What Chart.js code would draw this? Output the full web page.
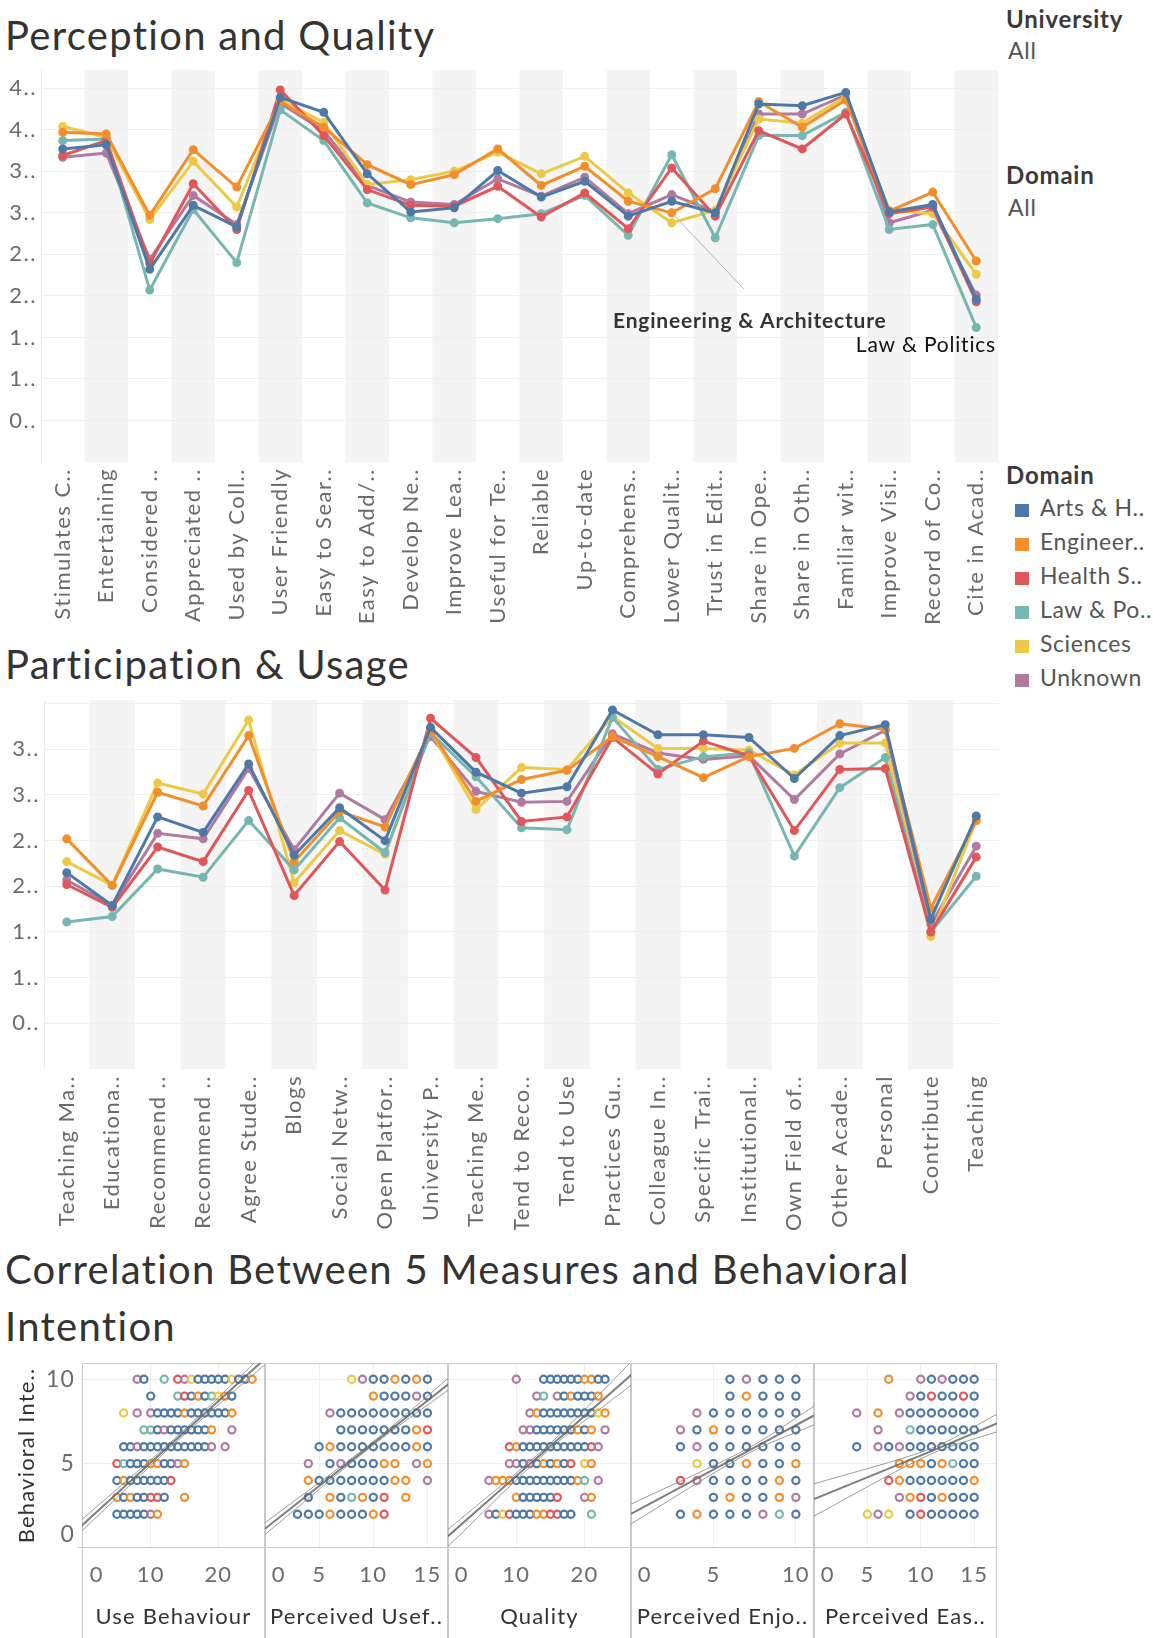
<!DOCTYPE html>
<html>
<head>
<meta charset="utf-8">
<script src="https://cdn.jsdelivr.net/npm/chart.js@4.4.1/dist/chart.umd.min.js"></script>
<style>
  body { margin: 0; background: #fff; width: 1153px; height: 1638px; position: relative; overflow: hidden; font-family: Lato, sans-serif; }
  canvas { position: absolute; }
  .title { position: absolute; left: 5px; font-size: 40px; line-height: 40px; color: #333; white-space: nowrap; letter-spacing: 1.3px; }
  .side { position: absolute; left: 1006px; white-space: nowrap; letter-spacing: 0.8px; }
  .side.head { font-size: 24px; font-weight: 700; color: #3a3a3a; line-height: 26px; }
  .side.val { font-size: 23px; color: #555; line-height: 26px; left: 1008px; }
  .item { position: absolute; left: 1015px; font-size: 23px; color: #555; line-height: 26px; white-space: nowrap; letter-spacing: 0.6px; }
  .item i { display: inline-block; width: 14px; height: 13px; margin-right: 11px; vertical-align: -1px; }
</style>
</head>
<body>
<div class="title" style="top:15px">Perception and Quality</div>
<div class="title" style="top:644px">Participation &amp; Usage</div>
<div class="title" style="top:1249px">Correlation Between 5 Measures and Behavioral</div>
<div class="title" style="top:1306px">Intention</div>

<div class="side head" style="top:6px">University</div>
<div class="side val" style="top:37px">All</div>
<div class="side head" style="top:162px">Domain</div>
<div class="side val" style="top:194px">All</div>
<div class="side head" style="top:462px">Domain</div>
<div id="legend"></div>

<canvas id="perception" width="1020" height="590" style="left:0;top:40px"></canvas>
<canvas id="usage" width="1021" height="560" style="left:0;top:670px"></canvas>
<canvas id="p1" width="285" height="305" style="left:0;top:1333px"></canvas>
<canvas id="p2" width="243" height="305" style="left:225px;top:1333px"></canvas>
<canvas id="p3" width="243" height="305" style="left:408px;top:1333px"></canvas>
<canvas id="p4" width="243" height="305" style="left:591px;top:1333px"></canvas>
<canvas id="p5" width="243" height="305" style="left:774px;top:1333px"></canvas>

<script>
const domains = ['Arts & H..', 'Engineer..', 'Health S..', 'Law & Po..', 'Sciences', 'Unknown'];
const domainColors = ['#4e79a7', '#f28e2b', '#e15759', '#76b7b2', '#edc948', '#b07aa1'];

// Perception and Quality
const perceptionLabels = ['Stimulates C..', 'Entertaining', 'Considered ..', 'Appreciated ..', 'Used by Coll..',
  'User Friendly', 'Easy to Sear..', 'Easy to Add/..', 'Develop Ne..', 'Improve Lea..', 'Useful for Te..',
  'Reliable', 'Up-to-date', 'Comprehens..', 'Lower Qualit..', 'Trust in Edit..', 'Share in Ope..',
  'Share in Oth..', 'Familiar wit..', 'Improve Visi..', 'Record of Co..', 'Cite in Acad..'];
const perceptionArts = [3.77, 3.82, 2.32, 3.09, 2.83, 4.39, 4.21, 3.47, 3.01, 3.06, 3.51, 3.19, 3.38, 2.96, 3.14, 3.00, 4.31, 4.29, 4.45, 3.01, 3.10, 1.96];
const perceptionEng = [3.97, 3.95, 2.97, 3.76, 3.31, 4.34, 4.03, 3.58, 3.34, 3.46, 3.77, 3.33, 3.56, 3.14, 3.00, 3.29, 4.34, 4.03, 4.36, 3.02, 3.25, 2.42];
const perceptionHealth = [3.69, 3.87, 2.39, 3.35, 2.80, 4.48, 3.93, 3.28, 3.09, 3.08, 3.32, 2.95, 3.24, 2.81, 3.54, 2.96, 3.99, 3.77, 4.19, 2.99, 3.07, 1.93];
const perceptionLaw = [3.87, 3.89, 2.07, 3.04, 2.40, 4.24, 3.87, 3.12, 2.94, 2.88, 2.93, 2.99, 3.21, 2.73, 3.70, 2.70, 3.93, 3.93, 4.21, 2.80, 2.86, 1.62];
const perceptionSci = [4.04, 3.91, 2.92, 3.62, 3.07, 4.36, 4.09, 3.34, 3.40, 3.50, 3.73, 3.47, 3.68, 3.24, 2.88, 3.03, 4.13, 4.08, 4.40, 3.03, 2.99, 2.26];
const perceptionUnk = [3.67, 3.72, 2.44, 3.21, 2.86, 4.32, 3.99, 3.33, 3.13, 3.10, 3.41, 3.20, 3.43, 2.99, 3.22, 3.01, 4.19, 4.19, 4.42, 2.88, 3.03, 2.01];

// Participation & Usage
const usageLabels = ['Teaching Ma..', 'Educationa..', 'Recommend ..', 'Recommend ..', 'Agree Stude..', 'Blogs',
  'Social Netw..', 'Open Platfor..', 'University P..', 'Teaching Me..', 'Tend to Reco..', 'Tend to Use',
  'Practices Gu..', 'Colleague In..', 'Specific Trai..', 'Institutional..', 'Own Field of..', 'Other Acade..',
  'Personal', 'Contribute', 'Teaching'];
const usageArts = [2.15, 1.79, 2.76, 2.59, 3.34, 2.34, 2.86, 2.50, 3.74, 3.25, 3.02, 3.09, 3.93, 3.66, 3.66, 3.63, 3.18, 3.65, 3.77, 1.64, 2.77];
const usageEng = [2.52, 2.01, 3.03, 2.88, 3.65, 2.27, 2.82, 2.65, 3.71, 2.93, 3.17, 3.27, 3.64, 3.42, 3.19, 3.42, 3.51, 3.78, 3.72, 1.76, 2.72];
const usageHealth = [2.02, 1.77, 2.43, 2.27, 3.05, 1.90, 2.49, 1.96, 3.84, 3.41, 2.71, 2.76, 3.63, 3.23, 3.59, 3.43, 2.61, 3.28, 3.29, 1.50, 2.32];
const usageLaw = [1.61, 1.67, 2.19, 2.10, 2.72, 2.18, 2.75, 2.37, 3.68, 3.20, 2.64, 2.62, 3.85, 3.28, 3.42, 3.46, 2.33, 3.08, 3.41, 1.50, 2.11];
const usageSci = [2.27, 2.01, 3.13, 3.01, 3.82, 2.04, 2.61, 2.35, 3.70, 2.84, 3.30, 3.28, 3.86, 3.51, 3.51, 3.49, 3.22, 3.57, 3.57, 1.45, 2.73];
const usageUnk = [2.07, 1.79, 2.58, 2.52, 3.29, 2.40, 3.02, 2.73, 3.64, 3.04, 2.92, 2.93, 3.67, 3.46, 3.39, 3.43, 2.95, 3.45, 3.71, 1.58, 2.44];

// Correlation panels: [measure, behavioral intention, domain index]
const useBehaviourPts = [
  [8,10,5],[9,10,0],[12,10,3],[14,10,2],[15,10,5],[16,10,4],[17,10,0],[18,10,0],[19,10,0],[20,10,0],[21,10,0],[22,10,4],[23,10,0],[24,10,0],[25,10,1],
  [10,9,0],[14,9,3],[15,9,2],[16,9,0],[17,9,1],[18,9,0],[19,9,3],[20,9,4],[21,9,1],[22,9,0],
  [6,8,4],[8,8,5],[10,8,5],[11,8,0],[12,8,0],[13,8,0],[14,8,0],[15,8,1],[16,8,0],[17,8,0],[18,8,0],[19,8,0],[20,8,0],[21,8,0],[22,8,1],
  [9,7,3],[10,7,3],[11,7,0],[12,7,5],[13,7,0],[14,7,0],[15,7,0],[16,7,0],[17,7,0],[18,7,0],[19,7,1],[22,7,5],
  [6,6,0],[7,6,0],[8,6,5],[9,6,0],[10,6,0],[11,6,0],[12,6,0],[13,6,0],[14,6,0],[15,6,0],[16,6,0],[17,6,0],[18,6,0],[19,6,5],[21,6,5],
  [5,5,2],[6,5,3],[7,5,0],[8,5,0],[9,5,0],[10,5,1],[11,5,1],[12,5,0],[13,5,0],[14,5,5],[15,5,1],
  [5,4,0],[6,4,1],[7,4,0],[8,4,0],[9,4,0],[10,4,0],[11,4,0],[12,4,0],[13,4,2],
  [5,3,1],[6,3,0],[7,3,1],[8,3,0],[9,3,0],[10,3,2],[11,3,2],[12,3,0],[15,3,1],
  [5,2,0],[6,2,0],[7,2,0],[8,2,0],[9,2,0],[10,2,5],[11,2,1]
];
const usefulnessPts = [
  [8,10,4],[9,10,5],[10,10,0],[11,10,0],[12,10,1],[13,10,0],[14,10,1],[15,10,0],
  [10,9,1],[11,9,0],[12,9,0],[13,9,0],[14,9,5],[15,9,0],
  [6,8,5],[7,8,0],[8,8,0],[9,8,0],[10,8,0],[11,8,0],[12,8,0],[13,8,0],[14,8,0],[15,8,0],
  [7,7,0],[8,7,0],[9,7,0],[10,7,0],[11,7,0],[12,7,0],[13,7,0],[14,7,1],[15,7,2],
  [5,6,0],[6,6,1],[7,6,0],[8,6,0],[9,6,0],[10,6,0],[11,6,0],[12,6,0],[13,6,0],[14,6,1],[15,6,0],
  [4,5,5],[6,5,0],[7,5,5],[8,5,0],[9,5,0],[10,5,0],[11,5,1],[12,5,1],[14,5,5],[15,5,1],
  [4,4,1],[5,4,0],[6,4,0],[7,4,0],[8,4,0],[9,4,0],[10,4,0],[11,4,0],[12,4,1],[13,4,1],[15,4,5],
  [4,3,0],[6,3,1],[7,3,0],[8,3,3],[9,3,1],[10,3,0],[11,3,2],[13,3,1],
  [3,2,0],[4,2,0],[5,2,0],[6,2,1],[7,2,0],[8,2,0],[9,2,0],[10,2,1],[11,2,2]
];
const qualityPts = [
  [10,10,5],[14,10,0],[15,10,0],[16,10,0],[17,10,0],[18,10,0],[19,10,0],[20,10,1],[21,10,1],[22,10,0],[23,10,0],
  [13,9,5],[14,9,3],[16,9,5],[17,9,0],[18,9,1],[19,9,0],[20,9,0],[21,9,0],[22,9,1],
  [12,8,5],[13,8,1],[14,8,0],[15,8,0],[16,8,0],[17,8,0],[18,8,0],[19,8,0],[20,8,0],[21,8,0],[22,8,4],[23,8,1],
  [11,7,5],[12,7,5],[13,7,0],[14,7,0],[15,7,0],[16,7,0],[17,7,0],[18,7,0],[19,7,1],[20,7,0],[21,7,1],[23,7,5],
  [9,6,2],[10,6,1],[11,6,0],[12,6,0],[13,6,0],[14,6,0],[15,6,0],[16,6,0],[17,6,0],[18,6,0],[19,6,0],[20,6,0],[21,6,2],[22,6,5],
  [9,5,5],[10,5,5],[11,5,0],[12,5,5],[13,5,0],[14,5,1],[15,5,0],[16,5,1],[17,5,0],[18,5,2],[20,5,4],[21,5,1],
  [6,4,5],[7,4,1],[8,4,1],[9,4,1],[10,4,0],[11,4,0],[12,4,0],[13,4,0],[14,4,0],[15,4,0],[16,4,0],[17,4,0],[18,4,0],[19,4,1],[20,4,3],[22,4,5],
  [10,3,1],[11,3,0],[12,3,0],[13,3,0],[14,3,0],[15,3,0],[16,3,2],[20,3,5],[21,3,1],
  [6,2,5],[7,2,0],[8,2,4],[9,2,2],[10,2,0],[11,2,0],[12,2,0],[13,2,1],[14,2,1],[15,2,2],[16,2,2],[17,2,0],[18,2,0],[21,2,3]
];
const enjoymentPts = [
  [6,10,0],[7,10,5],[8,10,0],[9,10,0],[10,10,0],
  [6,9,0],[7,9,1],[8,9,0],[9,9,0],[10,9,0],
  [4,8,5],[5,8,0],[6,8,0],[7,8,0],[8,8,0],[9,8,0],[10,8,0],
  [3,7,5],[4,7,0],[5,7,1],[6,7,0],[7,7,0],[8,7,0],[9,7,0],[10,7,0],
  [3,6,0],[4,6,5],[5,6,0],[6,6,0],[7,6,0],[8,6,0],[9,6,0],[10,6,0],
  [4,5,4],[5,5,0],[6,5,0],[7,5,1],[8,5,0],[9,5,0],[10,5,1],
  [3,4,2],[4,4,5],[5,4,0],[6,4,0],[7,4,0],[8,4,0],[9,4,1],[10,4,0],
  [5,3,0],[6,3,1],[7,3,0],[8,3,0],[9,3,1],[10,3,5],
  [3,2,0],[4,2,1],[5,2,0],[6,2,0],[7,2,0],[8,2,5],[9,2,3],[10,2,0]
];
const easePts = [
  [7,10,1],[10,10,5],[11,10,0],[12,10,5],[13,10,0],[14,10,0],[15,10,0],
  [9,9,5],[10,9,0],[11,9,2],[12,9,0],[13,9,0],[14,9,2],[15,9,0],
  [4,8,5],[6,8,1],[8,8,5],[9,8,0],[10,8,0],[11,8,0],[12,8,0],[13,8,0],[14,8,0],[15,8,0],
  [6,7,5],[9,7,3],[10,7,0],[11,7,0],[12,7,0],[13,7,0],[14,7,0],[15,7,0],
  [4,6,0],[6,6,5],[7,6,0],[8,6,5],[9,6,0],[10,6,0],[11,6,0],[12,6,0],[13,6,0],[14,6,0],[15,6,0],
  [8,5,1],[9,5,1],[10,5,1],[11,5,0],[12,5,1],[13,5,3],[14,5,0],[15,5,0],
  [7,4,2],[8,4,1],[9,4,0],[10,4,0],[11,4,0],[12,4,0],[13,4,0],[14,4,0],[15,4,1],
  [8,3,5],[9,3,1],[10,3,2],[11,3,0],[12,3,1],[13,3,0],[14,3,0],[15,3,0],
  [5,2,4],[6,2,5],[7,2,4],[9,2,0],[10,2,2],[11,2,0],[12,2,0],[13,2,0],[14,2,0],[15,2,0]
];

// Trend lines: centre line and the two band edges, as [x, y] points
const useBehaviourTrend = [[[-1, 1.04], [14, 6.51], [28, 11.62]], [[-1, 1.4], [14, 6.65], [28, 12.0]], [[-1, 0.7], [14, 6.37], [28, 11.25]]];
const usefulnessTrend = [[[0, 1.14], [10, 6.2], [17, 9.74]], [[0, 1.5], [10, 6.3], [17, 10.1]], [[0, 0.8], [10, 6.1], [17, 9.4]]];
const qualityTrend = [[[0, 0.7], [15, 6.04], [27, 10.31]], [[0, 1.1], [15, 6.2], [27, 11.1]], [[0, 0.1], [15, 5.9], [27, 9.7]]];
const enjoymentTrend = [[[0, 2.02], [7, 5.7], [11.1, 7.85]], [[0, 2.6], [7, 5.85], [11.1, 8.4]], [[0, 1.43], [7, 5.55], [11.1, 7.3]]];
const easeTrend = [[[0, 2.9], [11, 5.74], [17.2, 7.4]], [[0, 3.8], [11, 5.9], [17.2, 7.95]], [[0, 1.9], [11, 5.58], [17.2, 6.9]]];

Chart.defaults.font.family = 'Lato, sans-serif';

// legend on the right
const legend = document.getElementById('legend');
domains.forEach((d, i) => {
  const el = document.createElement('div');
  el.className = 'item';
  el.style.top = (494 + i * 34) + 'px';
  el.innerHTML = '<i style="background:' + domainColors[i] + '"></i>' + d;
  legend.appendChild(el);
});

// wider letter spacing like the Tableau font
const spacingPlugin = {
  id: 'spacing',
  beforeDraw(chart, args, opts) {
    chart.ctx.letterSpacing = opts.value || '0px';
  }
};

const bandPlugin = {
  id: 'bands',
  beforeDraw(chart) {
    if (chart.config.type !== 'line') return;
    const {ctx, chartArea: a, scales: {x}} = chart;
    const w = x.getPixelForValue(1) - x.getPixelForValue(0);
    ctx.save();
    ctx.fillStyle = '#f4f4f4';
    for (let i = 1; i < chart.data.labels.length; i += 2) {
      const c = x.getPixelForValue(i);
      ctx.fillRect(c - w / 2, a.top, w, a.bottom - a.top);
    }
    ctx.restore();
  }
};

// labels drawn on the Perception chart
const notePlugin = {
  id: 'notes',
  afterDatasetsDraw(chart, args, opts) {
    if (!opts.show) return;
    const {ctx, scales: {x, y}} = chart;
    const px = x.getPixelForValue(14), py = y.getPixelForValue(perceptionEng[14]);
    ctx.save();
    ctx.strokeStyle = '#b5b5b5';
    ctx.lineWidth = 1;
    ctx.beginPath();
    ctx.moveTo(px, py);
    ctx.lineTo(px + 72, py + 76);
    ctx.stroke();
    ctx.textBaseline = 'middle';
    ctx.letterSpacing = '0.8px';
    ctx.font = 'bold 21px Lato, sans-serif';
    ctx.fillStyle = '#333';
    ctx.textAlign = 'center';
    ctx.fillText('Engineering & Architecture', px + 78, py + 108);
    ctx.fillStyle = '#111';
    ctx.textAlign = 'right';
    ctx.font = '21px Lato, sans-serif';
    ctx.fillText('Law & Politics', chart.chartArea.right - 2, py + 132);
    ctx.restore();
  }
};

function lineChart(id, labels, series, yMax, yWidth, xHeight, showNotes) {
  new Chart(document.getElementById(id), {
    type: 'line',
    data: {
      labels: labels,
      datasets: series.map((s, i) => ({
        label: domains[i],
        data: s,
        borderColor: domainColors[i],
        backgroundColor: domainColors[i],
        borderWidth: 3,
        pointRadius: 3,
        pointHoverRadius: 3,
        tension: 0
      }))
    },
    options: {
      responsive: false,
      animation: false,
      layout: { padding: { top: 30, right: 22, left: 0, bottom: 0 } },
      plugins: {
        legend: { display: false },
        tooltip: { enabled: false },
        notes: { show: showNotes },
        spacing: { value: '1.5px' }
      },
      scales: {
        x: {
          offset: true,
          grid: { display: false, drawTicks: false },
          border: { display: false },
          ticks: { autoSkip: false, minRotation: 90, maxRotation: 90, color: '#6b6b6b', font: { size: 22 }, padding: 6 },
          afterFit: s => { s.height = xHeight; }
        },
        y: {
          min: 0,
          max: yMax,
          ticks: {
            stepSize: 0.5,
            includeBounds: false,
            color: '#6b6b6b',
            font: { size: 22 },
            padding: 4,
            callback: v => (v === 0 || v >= 4 && yMax < 4.5) ? '' : String(v)[0] + '..'
          },
          grid: { color: c => c.tick.value === 0 ? 'rgba(0,0,0,0)' : '#efefef', drawTicks: false },
          border: { display: true, color: '#ececec' },
          afterFit: s => { s.width = yWidth; }
        }
      }
    },
    plugins: [spacingPlugin, bandPlugin, notePlugin]
  });
}

lineChart('perception', perceptionLabels,
  [perceptionArts, perceptionEng, perceptionHealth, perceptionLaw, perceptionSci, perceptionUnk], 4.72, 41, 168, true);
lineChart('usage', usageLabels,
  [usageArts, usageEng, usageHealth, usageLaw, usageSci, usageUnk], 4.04, 44, 161, false);

const framePlugin = {
  id: 'frame',
  beforeDatasetsDraw(chart) {
    const {ctx, chartArea: a, height} = chart;
    const l = Math.round(a.left) + 0.5, r = Math.round(a.right) - 0.5;
    const t = Math.round(a.top) + 0.5, b = Math.round(a.bottom) - 0.5;
    ctx.save();
    ctx.strokeStyle = '#c9c9c9';
    ctx.lineWidth = 1;
    ctx.beginPath();
    ctx.moveTo(l, t); ctx.lineTo(r, t);
    ctx.moveTo(l - (chart.options.scales.y.ticks.display ? 5 : 0), b); ctx.lineTo(r, b);
    ctx.moveTo(l, t); ctx.lineTo(l, height);
    ctx.moveTo(r, t); ctx.lineTo(r, height);
    ctx.stroke();
    ctx.restore();
  }
};

function panel(id, pts, trend, xMin, xMax, step, title, first) {
  const trendSets = trend.map((line, k) => ({
    data: line.map(p => ({ x: p[0], y: p[1] })),
    showLine: true,
    pointRadius: 0,
    borderColor: k === 0 ? 'rgba(105,105,105,0.85)' : 'rgba(130,130,130,0.8)',
    borderWidth: k === 0 ? 2 : 1,
    tension: 0.3
  }));
  new Chart(document.getElementById(id), {
    type: 'scatter',
    data: {
      datasets: trendSets.concat([{
        data: pts.map(p => ({ x: p[0], y: p[1] })),
        borderColor: pts.map(p => domainColors[p[2]]),
        backgroundColor: 'rgba(255,255,255,0)',
        pointRadius: 3.6,
        pointHoverRadius: 3.6,
        borderWidth: 2.2
      }])
    },
    options: {
      responsive: false,
      animation: false,
      layout: { padding: { top: 30, right: 20, left: first ? 0 : 40, bottom: 0 } },
      plugins: { legend: { display: false }, tooltip: { enabled: false }, spacing: { value: '1.2px' } },
      scales: {
        x: {
          type: 'linear',
          min: xMin,
          max: xMax,
          ticks: {
            stepSize: step, includeBounds: false, color: '#6b6b6b', font: { size: 22 }, padding: 14,
            callback: v => v === 0 ? '    0' : String(v)
          },
          grid: { color: c => c.tick.value === 0 ? 'rgba(0,0,0,0)' : '#efefef', drawTicks: false },
          border: { display: false },
          title: { display: true, text: title, color: '#333', font: { size: 22 }, padding: { top: 0, bottom: 8 } },
          afterFit: s => { s.height = 90; }
        },
        y: {
          min: 0,
          max: 10.96,
          ticks: {
            display: first, stepSize: 5, includeBounds: false, color: '#6b6b6b', font: { size: 23 }, padding: 7,
            callback: v => v === 0 ? ['0', ''] : String(v)
          },
          grid: { color: c => c.tick.value === 0 ? 'rgba(0,0,0,0)' : '#efefef', drawTicks: false },
          border: { display: false },
          title: { display: first, text: 'Behavioral Inte..', color: '#333', font: { size: 22 }, padding: { top: 14, bottom: 0 } },
          afterFit: s => { s.width = first ? 82 : 0; }
        }
      }
    },
    plugins: [spacingPlugin, framePlugin]
  });
}

panel('p1', useBehaviourPts, useBehaviourTrend, -0.16, 26.9, 10, 'Use Behaviour', true);
panel('p2', usefulnessPts, usefulnessTrend, 0, 16.9, 5, 'Perceived Usef..', false);
panel('p3', qualityPts, qualityTrend, 0, 26.8, 10, 'Quality', false);
panel('p4', enjoymentPts, enjoymentTrend, 0, 11.1, 5, 'Perceived Enjo..', false);
panel('p5', easePts, easeTrend, 0, 17.14, 5, 'Perceived Eas..', false);
</script>
</body>
</html>
